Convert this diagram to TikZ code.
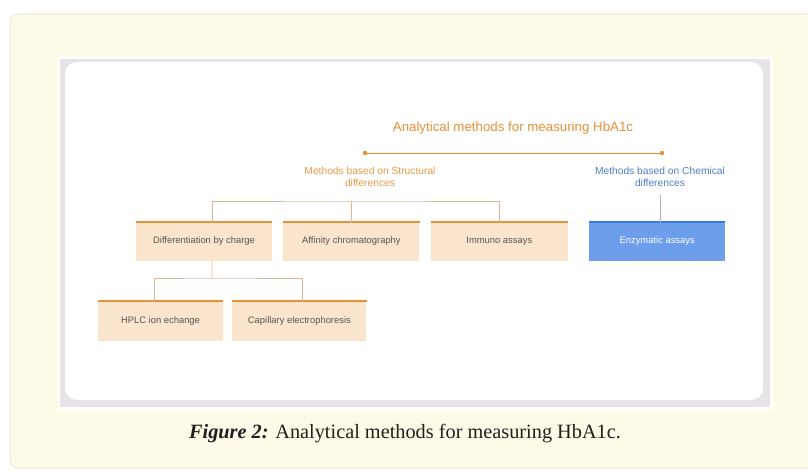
\documentclass[tikz,border=0pt]{standalone}
\usepackage{fontspec}
\setmainfont{Liberation Serif}
\setsansfont{Liberation Sans}
\usetikzlibrary{positioning}
\definecolor{paper}{HTML}{FEFAE8}
\definecolor{paperedge}{HTML}{EEEADD}
\definecolor{shotgray}{HTML}{E6E4E6}
\definecolor{ochre}{HTML}{E69138}
\definecolor{peach}{HTML}{FCE5CD}
\definecolor{cornflower}{HTML}{6D9EEB}
\definecolor{deepblue}{HTML}{3C78D8}
\definecolor{labelblue}{HTML}{4F7FC6}
\definecolor{tanline}{HTML}{DDB894}
\definecolor{bluegray}{HTML}{A7B6CC}
\definecolor{boxtext}{HTML}{555555}

\begin{document}
\begin{tikzpicture}[x=1bp,y=-1bp,
    every node/.style={font=\sffamily\fontsize{9.4bp}{11bp}\selectfont,align=center,inner sep=0pt},
    methodbox/.style={fill=peach,text=boxtext,minimum width=136bp,minimum height=39bp},
    chembox/.style={methodbox,fill=cornflower,text=white},
    subbox/.style={methodbox,minimum height=40bp},
    headlabel/.style={font=\sffamily\fontsize{10.25bp}{12bp}\selectfont},
    topline/.style={draw=ochre,line width=2.2bp},
    link/.style={draw=tanline,line width=0.8bp}]
  \useasboundingbox (0,0) rectangle (808,472);
  \draw[fill=paper,draw=paperedge,line width=1bp,rounded corners=8bp] (10,14) rectangle (830,468);
  \fill[white] (58,57) rectangle (773,410);
  \fill[shotgray] (60,59) rectangle (770,407);
  \fill[white,rounded corners=12bp] (65,62) rectangle (763,400);

  \node[font=\sffamily\fontsize{13.3bp}{15bp}\selectfont,text=ochre] (title) at (513,128) {Analytical methods for measuring HbA1c};
  \coordinate (sdot) at (365,153);
  \coordinate (cdot) at (662,153);
  \draw[draw=ochre,line width=0.9bp] (sdot) -- (cdot);
  \fill[ochre] (sdot) circle (2.2bp) (cdot) circle (2.2bp);
  \node[headlabel,text=ochre!92!white] (struct) at (370,177) {Methods based on Structural\\differences};
  \node[headlabel,text=labelblue] (chem) at (660,177) {Methods based on Chemical\\differences};

  \node[methodbox] (diff) at (204,241.5) {Differentiation by charge};
  \node[methodbox,right=11bp of diff] (aff) {Affinity chromatography};
  \node[methodbox,right=11bp of aff,minimum width=137bp] (imm) {Immuno assays};
  \node[chembox,right=21bp of imm] (enz) {Enzymatic assays};
  \node[subbox,minimum width=125bp] (hplc) at (160.5,321) {HPLC ion echange};
  \node[subbox,right=9bp of hplc,minimum width=134bp] (cap) {Capillary electrophoresis};
  \foreach \n in {diff,aff,imm,hplc,cap}
    \draw[topline] (\n.north west) -- (\n.north east);
  \draw[draw=deepblue,line width=2.2bp] (enz.north west) -- (enz.north east);

  \coordinate (sjoin) at (352,201);
  \coordinate (cjoin) at (212,278);
  \draw[link] ([xshift=8bp,yshift=-1.1bp]diff.north) |- (sjoin) -| ([yshift=-1.1bp]imm.north);
  \draw[link] ([yshift=-1.1bp]aff.north) -- (aff.north |- sjoin);
  \draw[link] ([xshift=8bp]diff.south) -- (cjoin);
  \draw[link] ([xshift=-6.5bp,yshift=-1.1bp]hplc.north) |- (cjoin) -| ([xshift=2.5bp,yshift=-1.1bp]cap.north);
  \draw[draw=bluegray,line width=0.8bp] ([yshift=-8bp]chem.south) -- ([yshift=-1.1bp]chem.south |- enz.north);

  \node[font=\rmfamily\fontsize{20.3bp}{23bp}\selectfont,text=black!88] (caption) at (405,434) {\textbf{\textit{Figure 2:}} Analytical methods for measuring HbA1c.};
\end{tikzpicture}
\end{document}
